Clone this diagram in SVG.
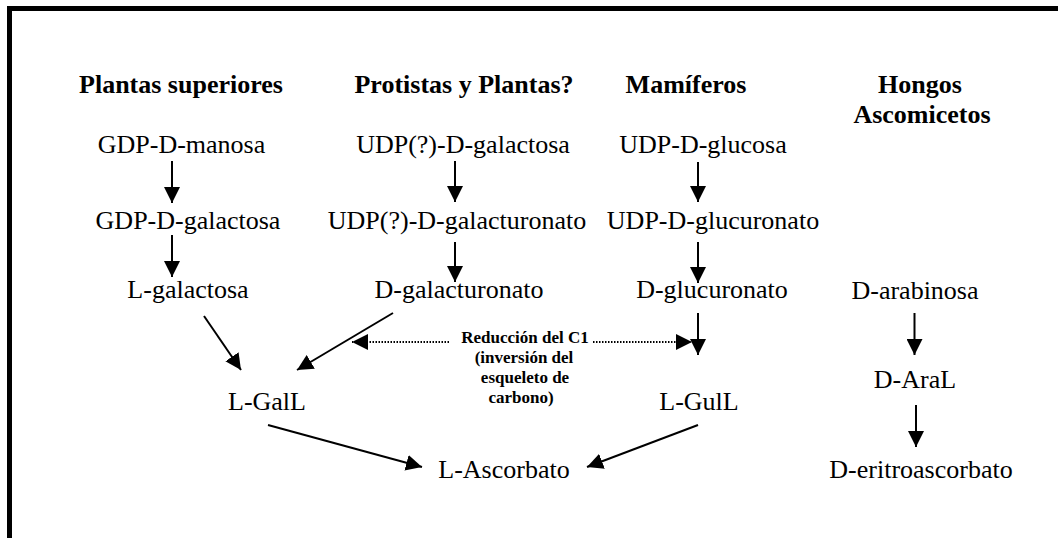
<svg xmlns="http://www.w3.org/2000/svg" width="1058" height="538" viewBox="0 0 1058 538">
<style>
.t{font-family:"Liberation Serif","Times New Roman",serif;font-size:26px;fill:#000;text-anchor:middle}
.h{font-family:"Liberation Serif","Times New Roman",serif;font-size:26px;font-weight:bold;fill:#000;text-anchor:middle}
.s{font-family:"Liberation Serif","Times New Roman",serif;font-size:17px;font-weight:bold;fill:#000;text-anchor:middle}
.a{stroke:#000;stroke-width:2;fill:none;marker-end:url(#ah)}
.d{stroke:#000;stroke-width:2;fill:none;stroke-dasharray:1.5 1.5;marker-end:url(#ah)}
</style>
<defs>
<marker id="ah" markerUnits="userSpaceOnUse" markerWidth="17" markerHeight="16" refX="16" refY="8" orient="auto">
<path d="M0,0 L16,8 L0,16 z" fill="#000"/>
</marker>
</defs>
<rect width="1058" height="538" fill="#fff"/>
<g id="frame">
<line x1="9.5" y1="6" x2="9.5" y2="538" stroke="#000" stroke-width="5"/>
<line x1="7" y1="8.5" x2="1058" y2="8.5" stroke="#000" stroke-width="5"/>
</g>
<g id="headers">
<text class="h" x="181" y="93">Plantas superiores</text>
<text class="h" x="464" y="93">Protistas y Plantas?</text>
<text class="h" x="686" y="93">Mamíferos</text>
<text class="h" x="920" y="93">Hongos</text>
<text class="h" x="922" y="123">Ascomicetos</text>
</g>
<g id="n-gdp-man"><text class="t" x="181.5" y="153">GDP-D-manosa</text></g>
<g id="n-gdp-gal"><text class="t" x="188" y="229">GDP-D-galactosa</text></g>
<g id="n-lgal"><text class="t" x="188" y="298">L-galactosa</text></g>
<g id="n-udp-gal"><text class="t" x="463" y="153">UDP(?)-D-galactosa</text></g>
<g id="n-udp-galur"><text class="t" x="457" y="229">UDP(?)-D-galacturonato</text></g>
<g id="n-dgalur"><text class="t" x="459" y="298">D-galacturonato</text></g>
<g id="n-udp-glc"><text class="t" x="703" y="153">UDP-D-glucosa</text></g>
<g id="n-udp-glcur"><text class="t" x="713" y="229">UDP-D-glucuronato</text></g>
<g id="n-dglcur"><text class="t" x="712" y="298">D-glucuronato</text></g>
<g id="n-dara"><text class="t" x="915" y="299">D-arabinosa</text></g>
<g id="n-daral"><text class="t" x="915" y="388">D-AraL</text></g>
<g id="n-deritro"><text class="t" x="921" y="478">D-eritroascorbato</text></g>
<g id="n-lgall"><text class="t" x="267" y="410">L-GalL</text></g>
<g id="n-lgull"><text class="t" x="699" y="410">L-GulL</text></g>
<g id="n-lasc"><text class="t" x="504" y="478">L-Ascorbato</text></g>
<g id="label-c1">
<text class="s" x="525" y="343">Reducción del C1</text>
<text class="s" x="524" y="363">(inversión del</text>
<text class="s" x="525" y="383">esqueleto de</text>
<text class="s" x="521" y="403">carbono)</text>
</g>
<g id="connectors">
<line class="a" x1="172" y1="161" x2="172" y2="203"/>
<line class="a" x1="172" y1="235" x2="172" y2="277"/>
<line class="a" x1="455" y1="161" x2="455" y2="202"/>
<line class="a" x1="455" y1="242" x2="455" y2="282"/>
<line class="a" x1="698" y1="162" x2="698" y2="202"/>
<line class="a" x1="698" y1="242" x2="698" y2="283"/>
<line class="a" x1="698" y1="313" x2="698" y2="355"/>
<line class="a" x1="914.5" y1="313" x2="914.5" y2="355"/>
<line class="a" x1="916" y1="405" x2="916" y2="447"/>
<line class="a" x1="204" y1="316" x2="241" y2="370"/>
<line class="a" x1="393" y1="313" x2="297" y2="370"/>
<line class="a" x1="268" y1="425" x2="422" y2="467"/>
<line class="a" x1="698" y1="425" x2="587" y2="467"/>
<line class="d" x1="449" y1="342" x2="352" y2="342"/>
<line class="d" x1="593" y1="342" x2="692" y2="342"/>
</g>
</svg>
